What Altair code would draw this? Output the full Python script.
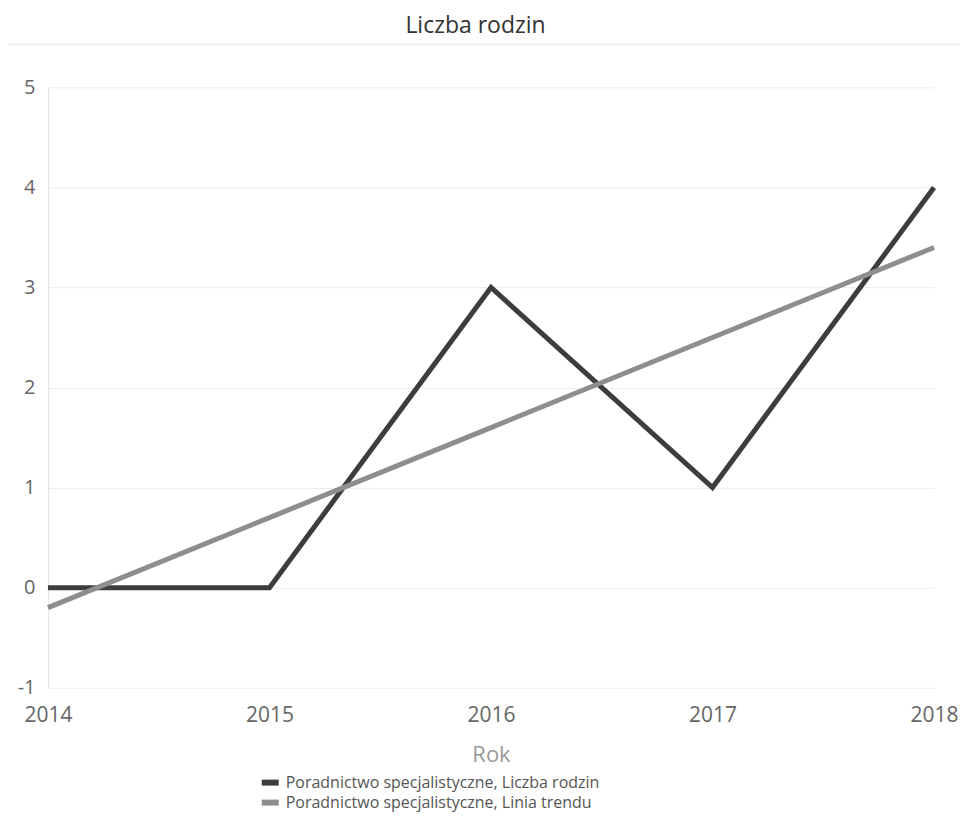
import altair as alt
import pandas as pd

years = [2014, 2015, 2016, 2017, 2018]
liczba_rodzin = [0, 0, 3, 1, 4]
linia_trendu = [-0.2, 0.7, 1.6, 2.5, 3.4]
series_names = [
    "Poradnictwo specjalistyczne, Liczba rodzin",
    "Poradnictwo specjalistyczne, Linia trendu",
]
series_colors = ["#3d3d3d", "#8e8e8e"]
chart_title = "Liczba rodzin"

rows = []
for y, v in zip(years, liczba_rodzin):
    rows.append({"Rok": y, "Wartość": v, "Seria": series_names[0]})
for y, v in zip(years, linia_trendu):
    rows.append({"Rok": y, "Wartość": v, "Seria": series_names[1]})
df = pd.DataFrame(rows)

FONT = "Open Sans"
W, H = 887, 601

lines = alt.Chart(df).mark_line(strokeWidth=5, strokeJoin="miter", strokeCap="butt").encode(
    x=alt.X("Rok:Q",
            scale=alt.Scale(domain=[2014, 2018], nice=False, zero=False),
            axis=alt.Axis(values=years, format="d", title="Rok", grid=False, domain=False,
                          ticks=False, labelPadding=17, labelFontSize=21, labelColor="#666666",
                          labelFlush=False, labelOverlap=False,
                          labelFont=FONT, titleFont=FONT, titleFontSize=22, titleColor="#999999",
                          titleFontWeight="normal", titlePadding=19)),
    y=alt.Y("Wartość:Q",
            scale=alt.Scale(domain=[-1, 5], nice=False, zero=False),
            axis=alt.Axis(values=[-1, 0, 1, 2, 3, 4, 5], title=None, grid=True, gridColor="#ececec",
                          domain=True, domainColor="#e4e4e4", ticks=False, labelPadding=13,
                          labelExpr="replace(datum.label, '\u2212', '-')",
                          labelFontSize=20, labelColor="#666666", labelFont=FONT)),
    color=alt.Color("Seria:N",
                    scale=alt.Scale(domain=series_names, range=series_colors),
                    legend=None),
)

underline = alt.Chart(pd.DataFrame({"a": [0]})).mark_rule(color="#eeeeee", strokeWidth=2, clip=False).encode(
    x=alt.value(-48), x2=alt.value(W + 27), y=alt.value(-43)
)

title = alt.Chart(pd.DataFrame({"t": [chart_title]})).mark_text(
    font=FONT, fontSize=23, color="#333333", align="center", baseline="alphabetic"
).encode(text="t:N", x=alt.value(428), y=alt.value(-54))

legend_layers = []
for i, (name, col) in enumerate(zip(series_names, series_colors)):
    base_y = 701 + 20 * i
    sw = alt.Chart(pd.DataFrame({"s": [name]})).mark_rule(
        color=col, strokeWidth=6, clip=False
    ).encode(x=alt.value(214), x2=alt.value(231), y=alt.value(base_y - 5))
    tx = alt.Chart(pd.DataFrame({"s": [name]})).mark_text(
        font=FONT, fontSize=16, color="#555555", align="left", baseline="alphabetic", clip=False
    ).encode(text="s:N", x=alt.value(238), y=alt.value(base_y))
    legend_layers += [sw, tx]

chart = alt.layer(underline, title, lines, *legend_layers).properties(
    width=W,
    height=H,
    autosize=alt.AutoSizeParams(type="none"),
    padding={"left": 40, "top": 79, "right": 25, "bottom": 150},
).configure_view(stroke=None)

chart.save("out.html", embed_options={"renderer": "svg", "actions": False})
